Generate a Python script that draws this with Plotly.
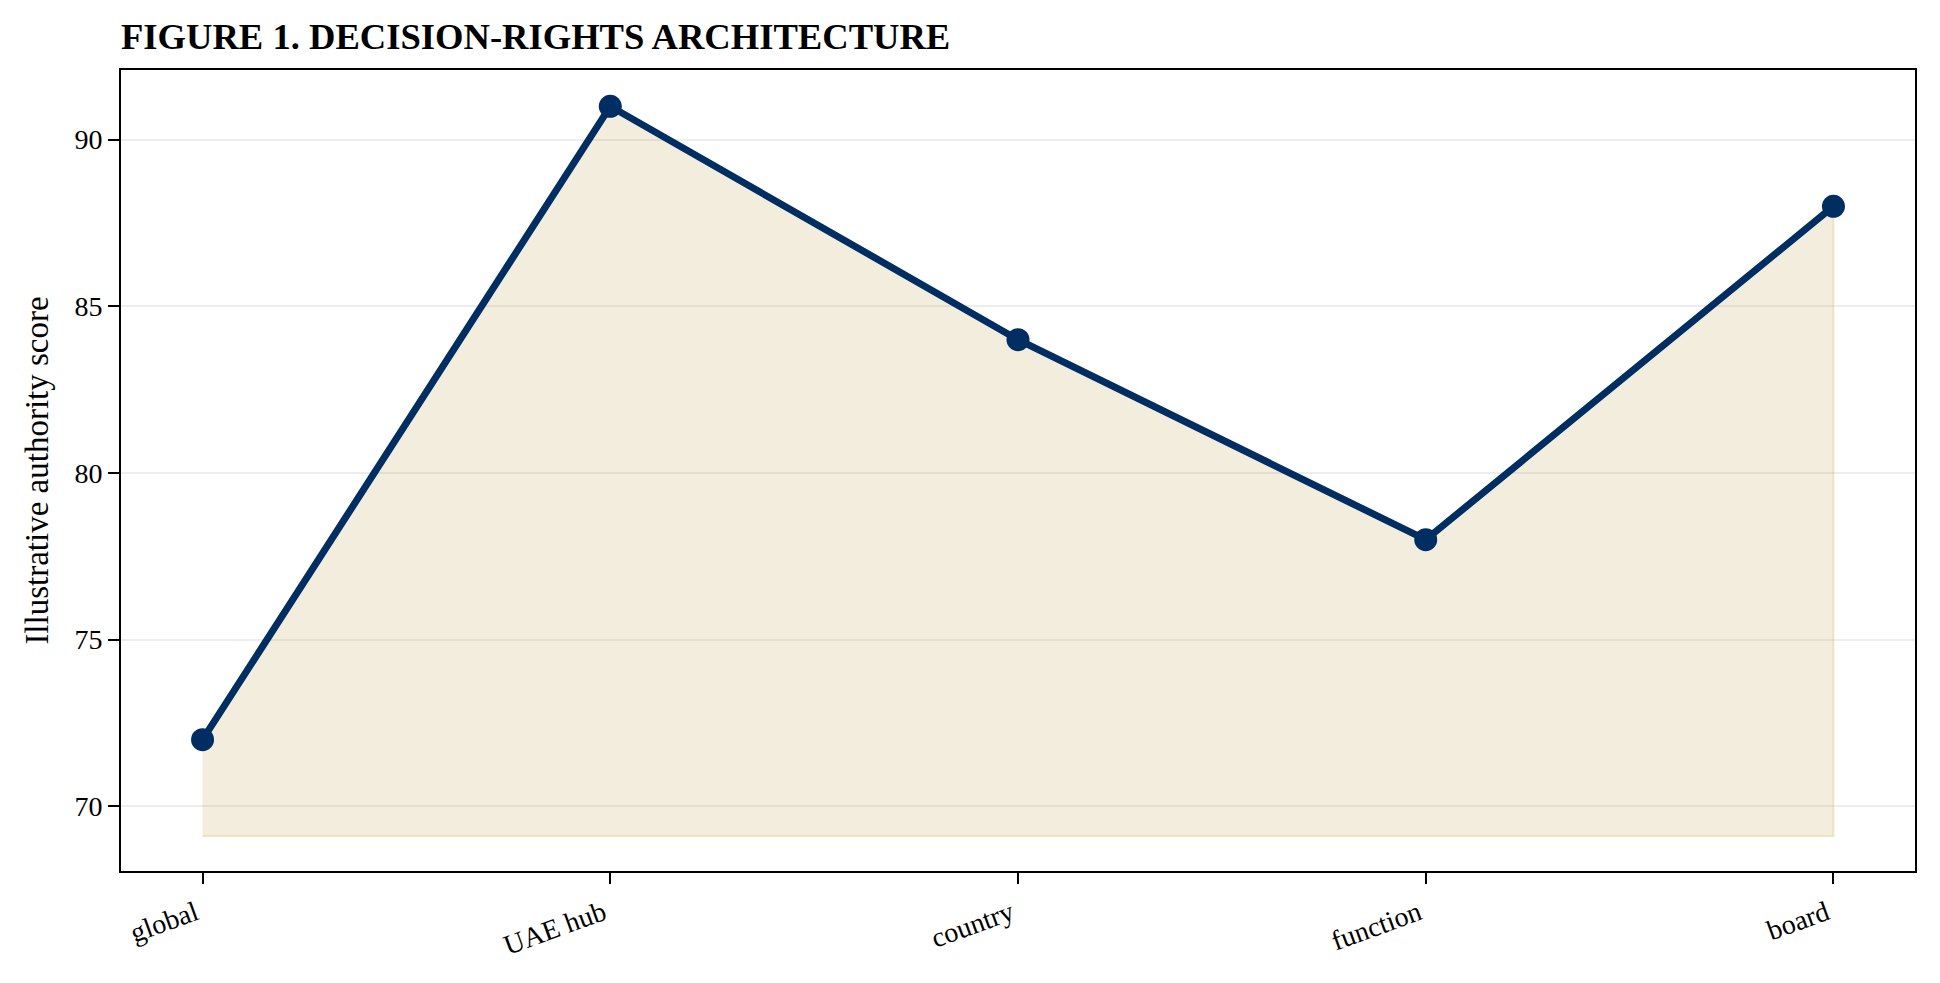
import plotly.graph_objects as go

categories = ["global", "UAE hub", "country", "function", "board"]
scores = [72, 91, 84, 78, 88]
fill_base = 69.1
y_ticks = [70, 75, 80, 85, 90]

title_text = "FIGURE 1. DECISION-RIGHTS ARCHITECTURE"
y_title = "Illustrative authority score"

NAVY = "#002D62"
FONT = "Liberation Serif, Times New Roman, serif"

W, H = 1924, 967

poly_x = categories + [categories[-1], categories[0]]
poly_y = scores + [fill_base, fill_base]

fig = go.Figure()
fig.add_trace(go.Scatter(
    x=poly_x, y=poly_y, fill="toself", mode="lines",
    fillcolor="rgba(190,155,70,0.18)",
    line=dict(color="rgba(201,162,39,0.22)", width=2),
    hoverinfo="skip", showlegend=False,
))
fig.add_trace(go.Scatter(
    x=categories, y=scores, mode="lines+markers",
    line=dict(color=NAVY, width=7),
    marker=dict(color=NAVY, size=23),
    showlegend=False,
))

fig.update_layout(
    width=W, height=H,
    margin=dict(l=113, r=17, t=62, b=104),
    paper_bgcolor="white", plot_bgcolor="white",
    font=dict(family=FONT, size=28, color="black"),
    title=dict(text="<b>" + title_text + "</b>", x=113/W, xref="container",
               xanchor="left", y=1 - 28/H, yref="container", yanchor="middle",
               font=dict(family=FONT, size=36.6, color="black")),
    xaxis=dict(
        type="category", range=[-0.2, 4.2],
        showline=True, linecolor="black", linewidth=2, mirror=True,
        ticks="outside", ticklen=11, tickwidth=2, tickcolor="black",
        tickangle=-20, showgrid=False, zeroline=False,
        ticklabelshift=-7, ticklabelstandoff=2,
        tickfont=dict(family=FONT, size=28),
    ),
    yaxis=dict(
        range=[68.06, 92.09], tickvals=y_ticks,
        showline=True, linecolor="black", linewidth=2, mirror=True,
        ticks="outside", ticklen=11, tickwidth=2, tickcolor="black",
        showgrid=True, gridcolor="#ededed", gridwidth=2, zeroline=False,
        tickfont=dict(family=FONT, size=28),
        title=dict(text=y_title, font=dict(family=FONT, size=33), standoff=16),
    ),
)

fig.write_html("out.html")
